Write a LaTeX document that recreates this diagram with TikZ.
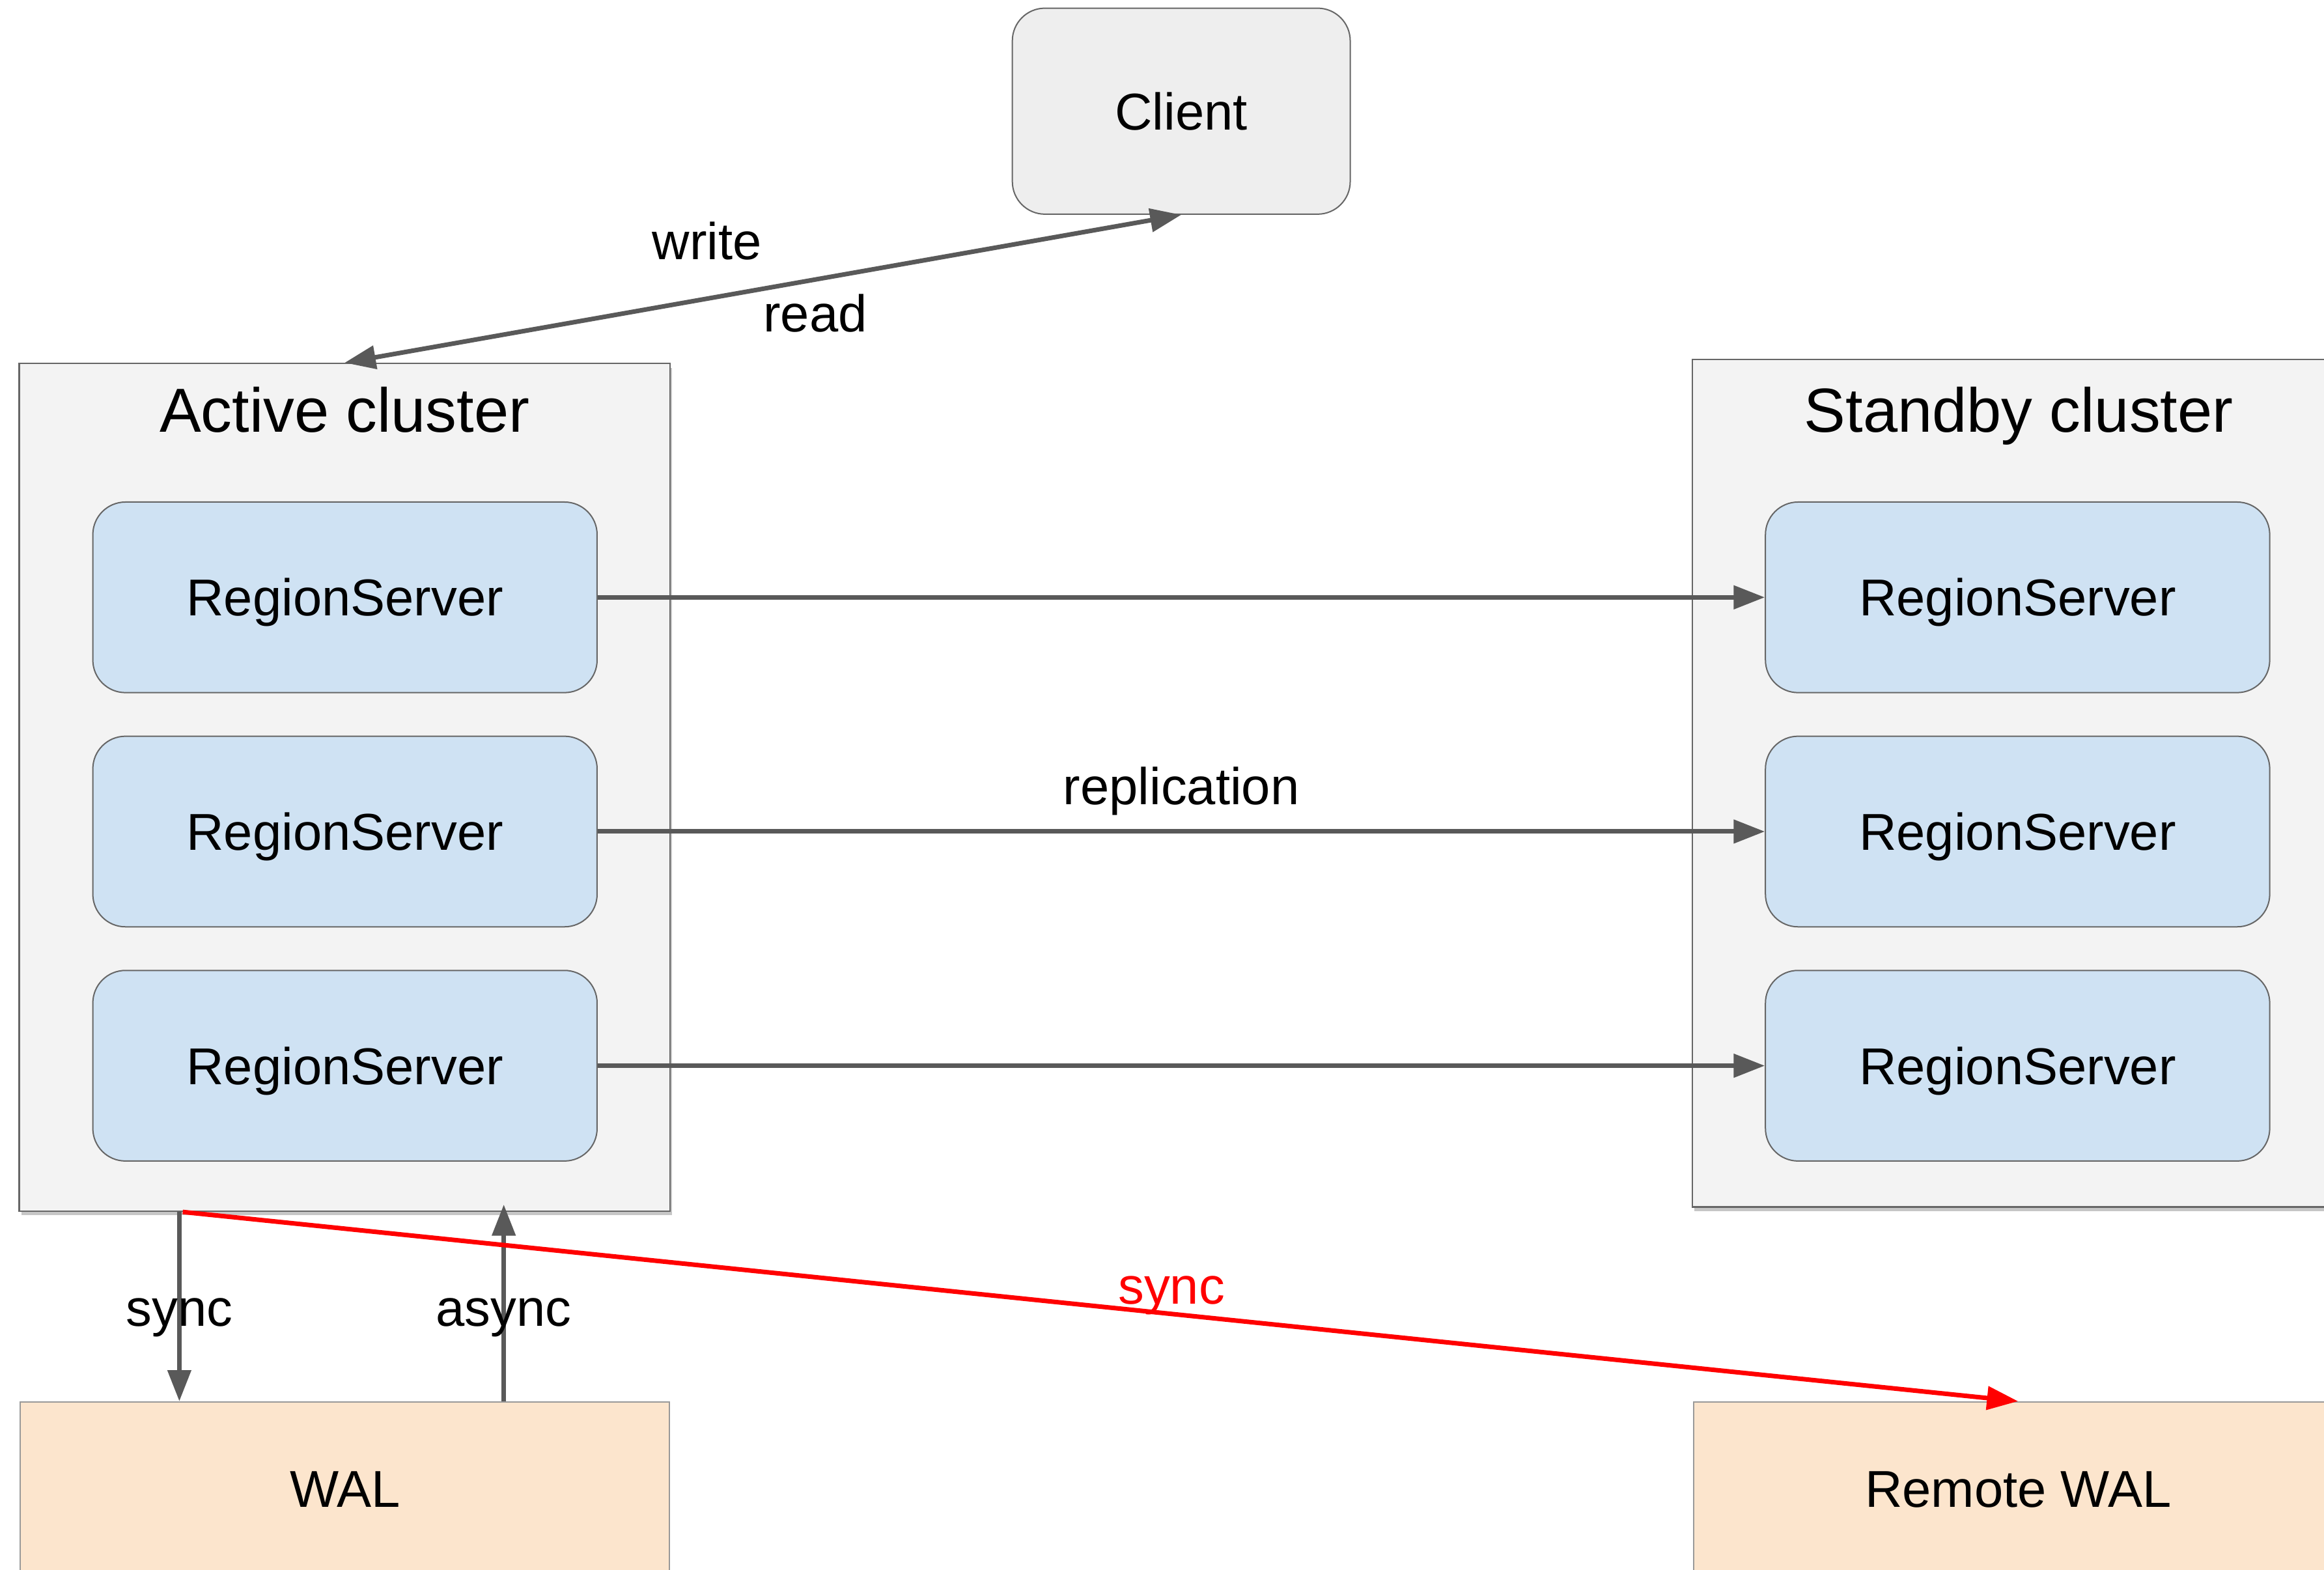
\documentclass[tikz,border=0pt]{standalone}
\usepackage{fontspec}
\setmainfont{Liberation Sans}
\usetikzlibrary{arrows.meta,shadows}

\definecolor{linegray}{HTML}{595959}
\definecolor{clientfill}{HTML}{EEEEEE}
\definecolor{clusterfill}{HTML}{F3F3F3}
\definecolor{rsfill}{HTML}{CFE2F3}
\definecolor{walfill}{HTML}{FCE5CD}
\definecolor{edgegray}{HTML}{666666}
\definecolor{lightedge}{HTML}{999999}

\tikzset{
  body/.style={font=\fontsize{19.9}{24}\selectfont, text height=14.25pt, text depth=0pt, inner sep=0pt},
  titletext/.style={font=\fontsize{23.9}{28}\selectfont, anchor=base, inner sep=0pt},
  lbl/.style={font=\fontsize{19.9}{24}\selectfont, anchor=base, inner sep=0pt},
  clientbox/.style={body, draw=edgegray, line width=0.5pt, fill=clientfill,
    rounded corners=0.44cm, minimum width=4.56cm, minimum height=2.78cm},
  clusterbox/.style={draw=edgegray, line width=0.6pt, fill=clusterfill,
    minimum width=8.78cm, minimum height=11.44cm, inner sep=0pt,
    drop shadow={opacity=0.45, shadow xshift=0.8pt, shadow yshift=-1.6pt}},
  rsbox/.style={body, draw=edgegray, line width=0.5pt, fill=rsfill,
    rounded corners=0.44cm, minimum width=6.806cm, minimum height=2.572cm},
  walbox/.style={body, draw=lightedge, line width=0.5pt, fill=walfill,
    minimum width=8.76cm, minimum height=2.348cm},
  conn/.style={draw=linegray, line width=1.75pt,
    -{Triangle[length=0.42cm, width=0.31cm]}},
  biconn/.style={draw=linegray, line width=1.75pt,
    {Triangle[length=0.42cm, width=0.31cm]}-{Triangle[length=0.42cm, width=0.31cm]}},
  redconn/.style={draw=red, line width=1.75pt,
    -{Triangle[length=0.42cm, width=0.31cm]}},
}

\begin{document}
\begin{tikzpicture}[x=0.02cm, y=-0.02cm]
  \useasboundingbox (0,0) rectangle (1568,1059);
  \clip (0,0) rectangle (1568,1059);

  % client
  \node[clientbox] (client) at (797,75) {Client};

  % clusters
  \node[clusterbox] (active) at (232.5,531.2) {};
  \node[clusterbox] (standby) at (1361.2,528.4) {};
  \node[titletext] (atitle) at (232.5,291.5) {Active cluster};
  \node[titletext] (stitle) at (1362,291.5) {Standby cluster};

  % region servers
  \node[rsbox] (a1) at (232.75,403) {RegionServer};
  \node[rsbox] (a2) at (232.75,561) {RegionServer};
  \node[rsbox] (a3) at (232.75,719) {RegionServer};
  \node[rsbox] (s1) at (1361.25,403) {RegionServer};
  \node[rsbox] (s2) at (1361.25,561) {RegionServer};
  \node[rsbox] (s3) at (1361.25,719) {RegionServer};

  % write-ahead logs
  \node[walbox] (wal) at (232.75,1004.5) {WAL};
  \node[walbox] (rwal) at (1361.6,1004.5) {Remote WAL};

  % client traffic
  \draw[biconn] (active.north) -- (client.south);
  \node[lbl] (lwrite) at (477,175) {write};
  \node[lbl] (lread) at (550,224) {read};

  % replication
  \draw[conn] (a1.east) -- (s1.west);
  \draw[conn] (a2.east) -- (s2.west);
  \draw[conn] (a3.east) -- (s3.west);
  \node[lbl] (lrepl) at (797,542.6) {replication};

  % WAL writes
  \coordinate (syncx) at (121,0);
  \coordinate (asyncx) at (339.9,0);
  \coordinate (redx) at (123.3,0);
  \draw[conn] (active.south -| syncx) -- (wal.north -| syncx);
  \draw[conn, shorten >=-0.1cm] (wal.north -| asyncx) -- (active.south -| asyncx);
  \node[lbl] (lsync) at (121,894.5) {sync};
  \node[lbl] (lasync) at (339.9,894.5) {async};

  \draw[redconn] (active.south -| redx) -- (rwal.north);
  \node[lbl, text=red] (lrsync) at (790.4,879.9) {sync};
\end{tikzpicture}
\end{document}
